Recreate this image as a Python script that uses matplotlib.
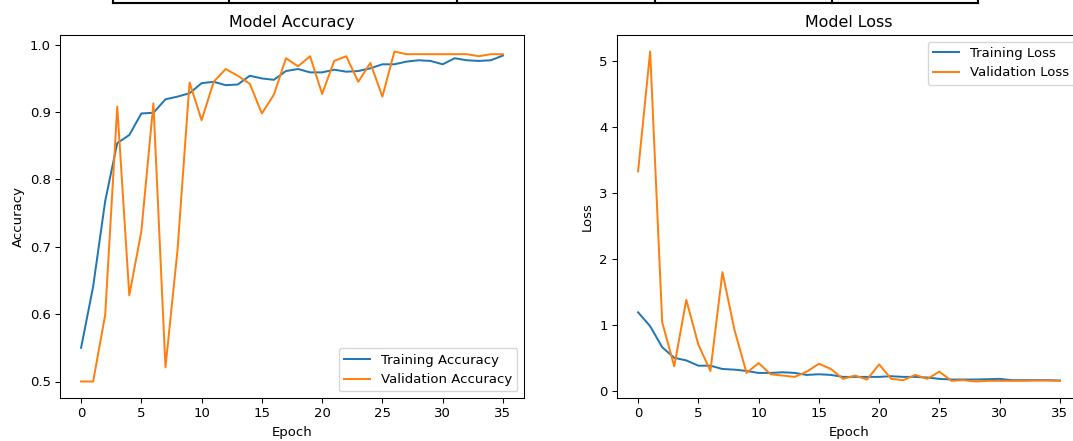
import numpy as np
import matplotlib
matplotlib.use("Agg")
import matplotlib.pyplot as plt
from matplotlib.lines import Line2D

# history
epochs = np.arange(36)

train_acc = [0.550, 0.641, 0.768, 0.854, 0.866, 0.898, 0.899, 0.919, 0.923, 0.928,
             0.943, 0.945, 0.940, 0.941, 0.954, 0.950, 0.948, 0.961, 0.964, 0.959,
             0.959, 0.963, 0.960, 0.961, 0.965, 0.971, 0.971, 0.975, 0.977, 0.976,
             0.971, 0.980, 0.977, 0.976, 0.977, 0.984]
val_acc = [0.500, 0.500, 0.599, 0.908, 0.628, 0.723, 0.913, 0.521, 0.695, 0.944,
           0.888, 0.945, 0.964, 0.954, 0.942, 0.898, 0.926, 0.980, 0.968, 0.983,
           0.927, 0.976, 0.983, 0.945, 0.973, 0.923, 0.990, 0.986, 0.986, 0.986,
           0.986, 0.986, 0.986, 0.983, 0.986, 0.986]

train_loss = [1.19, 0.98, 0.66, 0.50, 0.46, 0.38, 0.38, 0.33, 0.32, 0.30,
              0.27, 0.27, 0.28, 0.27, 0.24, 0.25, 0.24, 0.21, 0.21, 0.21,
              0.21, 0.22, 0.21, 0.21, 0.20, 0.18, 0.17, 0.17, 0.17, 0.175,
              0.18, 0.16, 0.16, 0.16, 0.16, 0.155]
val_loss = [3.33, 5.15, 1.04, 0.37, 1.38, 0.70, 0.30, 1.80, 0.92, 0.27,
            0.42, 0.25, 0.23, 0.21, 0.29, 0.41, 0.33, 0.18, 0.23, 0.17,
            0.40, 0.18, 0.16, 0.24, 0.18, 0.29, 0.15, 0.16, 0.14, 0.15,
            0.15, 0.15, 0.15, 0.155, 0.155, 0.15]

W, H = 1073, 441
DPI = 95
fig = plt.figure(figsize=(W / DPI, H / DPI), dpi=DPI)

ax1 = fig.add_axes([60 / W, 1 - 398 / H, 464 / W, 363 / H])
ax1.plot(epochs, train_acc, label="Training Accuracy")
ax1.plot(epochs, val_acc, label="Validation Accuracy")
ax1.set_title("Model Accuracy")
ax1.set_xlabel("Epoch")
ax1.set_ylabel("Accuracy")
ax1.legend(loc="lower right")

ax2 = fig.add_axes([617 / W, 1 - 398 / H, 464 / W, 363 / H])
ax2.plot(epochs, train_loss, label="Training Loss")
ax2.plot(epochs, val_loss, label="Validation Loss")
ax2.set_title("Model Loss")
ax2.set_xlabel("Epoch")
ax2.set_ylabel("Loss")
ax2.legend(loc="upper right")

# leftover table border at the top of the crop
ys = 1 - 3 / H
fig.add_artist(Line2D([113 / W, 978 / W], [ys, ys], color="black", lw=1.6))
for xv in [113, 229, 457, 655, 832, 978]:
    fig.add_artist(Line2D([xv / W, xv / W], [1.0, ys], color="black", lw=1.6))

fig.savefig("out.png", dpi=DPI)
